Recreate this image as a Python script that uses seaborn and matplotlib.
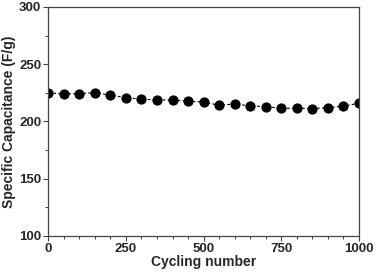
import matplotlib
matplotlib.use("Agg")
import matplotlib.pyplot as plt
import seaborn as sns
import pandas as pd
from matplotlib.ticker import MultipleLocator

# cycle number vs specific capacitance
cycles = [0, 50, 100, 150, 200, 250, 300, 350, 400, 450, 500,
          550, 600, 650, 700, 750, 800, 850, 900, 950, 1000]
capacitance = [224.8, 224.2, 224.2, 225.2, 222.9, 220.8, 219.4, 218.8, 218.8, 217.6, 217.0,
               214.1, 215.3, 213.5, 212.9, 211.5, 211.5, 211.2, 212.0, 213.3, 215.9]

df = pd.DataFrame({"cycle": cycles, "cap": capacitance})

sns.set_style("ticks")
plt.rcParams['font.family'] = ['Liberation Sans', 'DejaVu Sans']
plt.rcParams['font.weight'] = 'bold'

fig, ax = plt.subplots(figsize=(3.77, 2.75), dpi=100)
fig.subplots_adjust(left=0.128, right=0.952, top=0.975, bottom=0.142)

sns.lineplot(data=df, x="cycle", y="cap", ax=ax, color="black",
             linestyle=(0, (2.5, 2)), linewidth=0.8,
             marker="o", markersize=6.6, markeredgecolor="black")

ax.set_xlim(0, 1000)
ax.set_ylim(100, 300)
ax.xaxis.set_major_locator(MultipleLocator(250))
ax.xaxis.set_minor_locator(MultipleLocator(50))
ax.yaxis.set_major_locator(MultipleLocator(50))
ax.yaxis.set_minor_locator(MultipleLocator(25))

for s in ax.spines.values():
    s.set_color("#444444")
    s.set_linewidth(0.9)
ax.tick_params(which="major", length=3.5, width=0.8, color="#444444",
               labelsize=9.5, pad=1.5)
ax.tick_params(which="minor", length=2, width=0.7, color="#444444")
for lab in ax.get_xticklabels() + ax.get_yticklabels():
    lab.set_fontweight("bold")

ax.set_xlabel("Cycling number", fontsize=10, fontweight="bold", labelpad=0)
ax.set_ylabel("Specific Capacitance (F/g)", fontsize=10, fontweight="bold", labelpad=2)

fig.savefig("out.png", dpi=100)
